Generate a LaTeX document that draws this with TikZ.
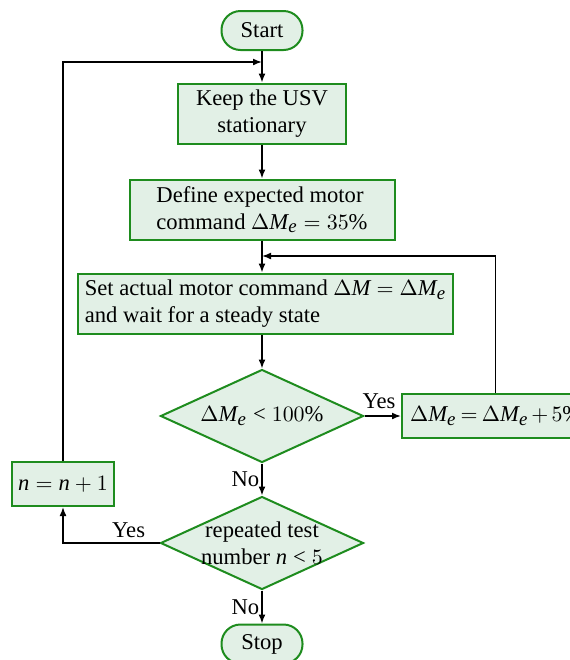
\documentclass[tikz,border=0pt]{standalone}
\usepackage{fontspec}
\setmainfont{Liberation Serif}
\usepackage[italic]{mathastext}
\usetikzlibrary{shapes.geometric,arrows.meta}

\definecolor{boxedge}{RGB}{30,140,30}
\definecolor{boxfill}{RGB}{226,240,230}

\begin{document}
\begin{tikzpicture}[x=0.5pt, y=-0.5pt,
      every node/.style={font=\fontsize{11.3}{13.5}\selectfont},
      terminal/.style={rectangle, rounded corners=9.5pt, draw=boxedge, fill=boxfill,
        line width=1pt, minimum width=40.5pt, minimum height=19.5pt},
      process/.style={rectangle, draw=boxedge, fill=boxfill, line width=1pt},
      decision/.style={diamond, draw=boxedge, fill=boxfill, line width=1pt,
        inner sep=0pt, minimum width=101.5pt, minimum height=46.5pt},
      tight/.style={execute at begin node={\thickmuskip=3.5mu\medmuskip=2.5mu}},
      flow/.style={-{Latex[length=4.5pt,width=3.5pt]}, line width=0.8pt}]

    \useasboundingbox (0,0) rectangle (569,660);

    \node[terminal] (start) at (262,30.5) {Start};
    \node[process, minimum width=84pt, minimum height=30pt, align=center] (keep) at (262,114)
      {Keep the USV\\stationary};
    \node[process, minimum width=132.5pt, minimum height=30pt, align=left] (define) at (262,209.5)
      {Define expected motor\\command $\Delta M_e=35\%$};
    \node[process, minimum width=185pt, minimum height=30pt, align=left] (set) at (265.5,304)
      {Set actual motor command $\Delta M=\Delta M_e$\\and wait for a steady state};

    \node[decision, label={center:$\Delta M_e<100\%$}] (check) at (262,416) {};
    \node[process, tight, anchor=west, minimum height=22pt, inner xsep=4pt] (raise) at (401,416)
      {$\Delta M_e=\Delta M_e+5\%$};

    \node[decision, label={[align=center]center:repeated test\\number $n<5$}] (repeat) at (262,543) {};
    \node[process, minimum width=48.5pt, minimum height=22pt] (count) at (63,484) {$n=n+1$};
    \node[terminal] (stop) at (262,644) {Stop};

    % joins on the main line
    \coordinate (loopin) at (262,62);
    \coordinate (stepin) at (262,256);

    \draw[flow] (start) -- (keep);
    \draw[flow] (keep) -- (define);
    \draw[flow] (define.south) -- (define.south |- set.north);
    \draw[flow] (set.south -| check.north) -- (check.north);

    \draw[flow] (check) -- node[above, pos=0.4] {Yes} (raise);
    \draw[flow] (raise.north) |- (stepin);
    \draw[flow] (check) -- node[left, inner sep=1pt] {No} (repeat);

    \draw[flow] (repeat) -- node[left, inner sep=1pt] {No} (stop);
    \draw[flow] (repeat.west) -| node[above, pos=0.16, inner sep=2pt] {Yes} (count.south);
    \draw[flow] (count.north) |- (loopin);

  \end{tikzpicture}
\end{document}
